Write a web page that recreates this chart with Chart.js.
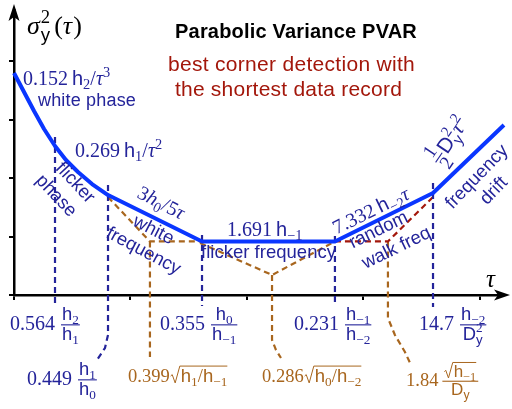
<!DOCTYPE html>
<html>
<head>
<meta charset="utf-8">
<script src="https://cdn.jsdelivr.net/npm/chart.js@4.4.1/dist/chart.umd.min.js"></script>
<style>
html, body { margin: 0; background: #fff; }
#wrap { width: 512px; height: 409px; }
</style>
</head>
<body>
<div id="wrap"><canvas id="chart"></canvas></div>
<script>
// sketch units: x ~ log tau, y ~ log sigma^2 (one tick = one unit)
const curveX = [0, 0.086, 0.172, 0.258, 0.352, 0.446, 0.549, 0.670, 0.807, 1.614, 2.755, 3.597, 4.206];
const curveY = [3.795, 3.470, 3.145, 2.838, 2.547, 2.308, 2.103, 1.897, 1.709, 0.915, 0.915, 1.744, 2.906];

// asymptote crossings (dashed)
const whiteFmX = [0.807, 1.167, 1.614];
const whiteFmY = [1.675, 0.915, 0.915];
const flickerFmX = [1.597, 2.215, 2.755];
const flickerFmY = [0.889, 0.342, 0.915];
const rwFmX = [2.755, 3.210, 3.597];
const rwFmY = [0.915, 0.915, 1.675];

// leaders from crossings down to their formulas
const lead1X = [1.167, 1.167];
const lead1Y = [0.915, -1.060];
const lead2X = [2.215, 2.215, 2.249, 2.292];
const lead2Y = [0.342, -0.769, -0.940, -1.077];
const lead3X = [3.210, 3.210, 3.270, 3.356, 3.408];
const lead3Y = [0.915, -0.393, -0.684, -0.974, -1.197];

// corner markers
const corner1X = [0.352, 0.352];
const corner1Y = [2.701, -0.137];
const corner2X = [0.807, 0.807, 0.781, 0.712];
const corner2Y = [1.880, -0.684, -0.906, -1.111];
const corner3X = [1.614, 1.614];
const corner3Y = [1.026, -0.188];
const corner4X = [2.755, 2.755];
const corner4Y = [1.009, -0.188];
const corner5X = [3.597, 3.597];
const corner5Y = [1.915, -0.205];

const BLUE = '#0a36ff';
const NAVY = '#24249a';
const BROWN = '#a8661e';
const DARKRED = '#a3170b';

const SERIF = '"Liberation Serif", "Times New Roman", serif';
const SANS = '"Liberation Sans", Arial, sans-serif';

const pts = (xs, ys) => xs.map((x, i) => ({ x, y: ys[i] }));

const dashed = (xs, ys, color) => ({
    data: pts(xs, ys),
    borderColor: color,
    borderWidth: 2.2,
    borderDash: [6, 4],
    pointRadius: 0,
    clip: false,
});

function fontFor(kind, size) {
    if (kind === 'i') return 'italic ' + size + 'px ' + SERIF;
    if (kind === 's') return size + 'px ' + SANS;
    return size + 'px ' + SERIF;
}

// measure (draw=false) or draw a little math run, returns its width
function mathRuns(ctx, parts, x, y, size, draw) {
    let cx = x;
    for (const p of parts) {
        if (typeof p === 'number') { cx += p; continue; }
        if (p.frac) {
            const fs = size * 0.92;
            const wn = mathRuns(ctx, p.frac[0], 0, 0, fs, false);
            const wd = mathRuns(ctx, p.frac[1], 0, 0, fs, false);
            const w = Math.max(wn, wd) + 4;
            const bar = y - size * 0.26;
            if (draw) {
                mathRuns(ctx, p.frac[0], cx + (w - wn) / 2, bar - size * 0.22, fs, true);
                mathRuns(ctx, p.frac[1], cx + (w - wd) / 2, bar + size * 0.74, fs, true);
                ctx.fillRect(cx + 1, bar - 0.5, w - 2, 1.1);
            }
            cx += w;
            continue;
        }
        if (p.sqrt) {
            const sw = size * 0.55;
            const wc = mathRuns(ctx, p.sqrt, 0, 0, size, false);
            if (draw) {
                ctx.beginPath();
                ctx.moveTo(cx + 1, y - size * 0.32);
                ctx.lineTo(cx + size * 0.14, y - size * 0.4);
                ctx.lineTo(cx + size * 0.3, y + size * 0.05);
                ctx.lineTo(cx + sw, y - size * 0.86);
                ctx.lineTo(cx + sw + wc + 1, y - size * 0.86);
                ctx.lineWidth = 1;
                ctx.strokeStyle = ctx.fillStyle;
                ctx.stroke();
                mathRuns(ctx, p.sqrt, cx + sw + 1, y, size, true);
            }
            cx += sw + wc + 2;
            continue;
        }
        if (p.ss) {
            const s = size * 0.72;
            ctx.font = fontFor(p.ss[0][1], s);
            const w1 = ctx.measureText(p.ss[0][0]).width;
            if (draw) ctx.fillText(p.ss[0][0], cx, y - size * 0.42);
            ctx.font = fontFor(p.ss[1][1], s);
            const w2 = ctx.measureText(p.ss[1][0]).width;
            if (draw) ctx.fillText(p.ss[1][0], cx, y + size * 0.26);
            cx += Math.max(w1, w2) + 1;
            continue;
        }
        const [t, kind, pos = 0] = p;
        const s = pos ? size * 0.72 : size;
        ctx.font = fontFor(kind, s);
        const dy = pos > 0 ? -size * 0.42 : pos < 0 ? size * 0.22 : 0;
        if (draw) ctx.fillText(t, cx, y + dy);
        cx += ctx.measureText(t).width;
    }
    return cx - x;
}

const h = (sub) => [['h', 's'], [sub, 'r', -1]];

// math labels: left x, baseline y (or centre + angle when rot given)
const mathLabels = [
    { x: 27, y: 34, size: 26, color: '#000', parts: [['σ', 'i'], 1, { ss: [['2', 'r'], ['y', 's']] }, 3, ['(', 'r'], ['τ', 'i'], 1, [')', 'r']] },
    { x: 486, y: 287, size: 25, color: '#000', parts: [['τ', 'i']] },
    { x: 23, y: 85, size: 20, color: NAVY, parts: [['0.152', 'r'], 4, ...h('2'), ['/', 'r'], ['τ', 'i'], ['3', 'r', 1]] },
    { x: 75, y: 157, size: 20, color: NAVY, parts: [['0.269', 'r'], 4, ...h('1'), ['/', 'r'], ['τ', 'i'], ['2', 'r', 1]] },
    { cx: 161, cy: 203, rot: 27, size: 20, color: NAVY, parts: [['3', 'r'], ['h', 'i'], ['0', 'r', -1], ['/5', 'r'], ['τ', 'i']] },
    { x: 227, y: 236, size: 20, color: NAVY, parts: [['1.691', 'r'], 4, ...h('−1')] },
    { cx: 371, cy: 211, rot: -26, size: 20, color: NAVY, parts: [['7.332', 'r'], 4, ...h('−2'), ['τ', 'i']] },
    { cx: 449, cy: 141, rot: -56, size: 21, color: NAVY, parts: [{ frac: [[['1', 'r']], [['2', 'r']]] }, ['D', 's'], { ss: [['2', 'r'], ['y', 's']] }, ['τ', 'i'], ['2', 'r', 1]] },
    { x: 10, y: 330, size: 20, color: NAVY, parts: [['0.564', 'r'], 5, { frac: [h('2'), h('1')] }] },
    { x: 27, y: 385, size: 20, color: NAVY, parts: [['0.449', 'r'], 5, { frac: [h('1'), h('0')] }] },
    { x: 160, y: 330, size: 20, color: NAVY, parts: [['0.355', 'r'], 5, { frac: [h('0'), h('−1')] }] },
    { x: 294, y: 330, size: 20, color: NAVY, parts: [['0.231', 'r'], 5, { frac: [h('−1'), h('−2')] }] },
    { x: 419, y: 330, size: 20, color: NAVY, parts: [['14.7', 'r'], 5, { frac: [h('−2'), [['D', 's'], { ss: [['2', 'r'], ['y', 's']] }]] }] },
    { x: 128, y: 382, size: 18.5, color: BROWN, parts: [['0.399', 'r'], { sqrt: [...h('1'), ['/', 'r'], ...h('−1')] }] },
    { x: 262, y: 382, size: 18.5, color: BROWN, parts: [['0.286', 'r'], { sqrt: [...h('0'), ['/', 'r'], ...h('−2')] }] },
    { x: 406, y: 386, size: 18.5, color: BROWN, parts: [['1.84', 'r'], 3, { frac: [[{ sqrt: h('−1') }], [['D', 's'], ['y', 's', -1]]] }] },
];

// plain text labels: centre, angle, target width (optional)
const textLabels = [
    { t: 'Parabolic Variance PVAR', cx: 296, cy: 38, size: 20, w: 242, color: '#000', bold: true, base: true },
    { t: 'best corner detection with', cx: 291.5, cy: 71, size: 21, w: 247, color: DARKRED, base: true },
    { t: 'the shortest data record', cx: 288.5, cy: 96, size: 21, w: 227, color: DARKRED, base: true },
    { t: 'white phase', cx: 87, cy: 106, size: 18, w: 98, color: NAVY, base: true },
    { t: 'flicker', cx: 76, cy: 182, size: 18.5, rot: 47, color: NAVY },
    { t: 'phase', cx: 57, cy: 195, size: 18.5, rot: 47, color: NAVY },
    { t: 'white', cx: 154, cy: 229, size: 18.5, rot: 27, color: NAVY },
    { t: 'frequency', cx: 144, cy: 250, size: 18.5, rot: 28, color: NAVY },
    { t: 'flicker frequency', cx: 268.5, cy: 258, size: 18.5, w: 135, color: NAVY, base: true },
    { t: 'random', cx: 378, cy: 229, size: 18.5, rot: -26, color: NAVY },
    { t: 'walk freq', cx: 396, cy: 247, size: 18.5, rot: -26, color: NAVY },
    { t: 'frequency', cx: 476, cy: 176, size: 18.5, rot: -46, color: NAVY },
    { t: 'drift', cx: 493, cy: 190, size: 18.5, rot: -46, color: NAVY },
];

const labelPlugin = {
    id: 'labels',
    afterDatasetsDraw(chart) {
        const ctx = chart.ctx;
        ctx.save();
        ctx.textAlign = 'left';
        ctx.textBaseline = 'alphabetic';
        for (const l of textLabels) {
            ctx.save();
            ctx.fillStyle = l.color;
            ctx.font = (l.bold ? 'bold ' : '') + l.size + 'px ' + SANS;
            let w = ctx.measureText(l.t).width;
            if (l.w) {
                ctx.letterSpacing = ((l.w - w) / l.t.length).toFixed(2) + 'px';
                w = ctx.measureText(l.t).width;
            }
            ctx.translate(l.cx, l.cy);
            if (l.rot) ctx.rotate(l.rot * Math.PI / 180);
            ctx.fillText(l.t, -w / 2, l.base ? 0 : l.size * 0.35);
            ctx.restore();
        }
        for (const m of mathLabels) {
            ctx.save();
            ctx.fillStyle = m.color;
            if (m.rot !== undefined) {
                const w = mathRuns(ctx, m.parts, 0, 0, m.size, false);
                ctx.translate(m.cx, m.cy);
                ctx.rotate(m.rot * Math.PI / 180);
                mathRuns(ctx, m.parts, -w / 2, m.size * 0.3, m.size, true);
            } else {
                mathRuns(ctx, m.parts, m.x, m.y, m.size, true);
            }
            ctx.restore();
        }
        ctx.restore();
    },
};

const arrowPlugin = {
    id: 'arrows',
    afterDraw(chart) {
        const { ctx, chartArea: a } = chart;
        ctx.save();
        ctx.fillStyle = '#000';
        ctx.beginPath();
        ctx.moveTo(a.left, a.top - 6);
        ctx.lineTo(a.left - 5.5, a.top + 11);
        ctx.lineTo(a.left, a.top + 7);
        ctx.lineTo(a.left + 5.5, a.top + 11);
        ctx.closePath();
        ctx.fill();
        ctx.beginPath();
        ctx.moveTo(a.right + 10, a.bottom);
        ctx.lineTo(a.right - 6, a.bottom - 5.5);
        ctx.lineTo(a.right - 2, a.bottom);
        ctx.lineTo(a.right - 6, a.bottom + 5.5);
        ctx.closePath();
        ctx.fill();
        ctx.restore();
    },
};

const axisOpts = (max) => ({
    type: 'linear',
    min: 0,
    max,
    border: { display: true, color: '#000', width: 2.5 },
    grid: { display: true, drawOnChartArea: false, drawTicks: true, tickLength: 5, color: '#000', lineWidth: 2 },
    ticks: { display: false, stepSize: 1, includeBounds: false },
});

new Chart(document.getElementById('chart'), {
    type: 'line',
    data: {
        datasets: [
            {
                data: pts(curveX, curveY),
                borderColor: BLUE,
                borderWidth: 4,
                pointRadius: 0,
                borderJoinStyle: 'round',
                clip: false,
            },
            dashed(corner1X, corner1Y, NAVY),
            dashed(corner2X, corner2Y, NAVY),
            dashed(corner3X, corner3Y, NAVY),
            dashed(corner4X, corner4Y, NAVY),
            dashed(corner5X, corner5Y, NAVY),
            dashed(whiteFmX, whiteFmY, BROWN),
            dashed(flickerFmX, flickerFmY, BROWN),
            dashed(rwFmX, rwFmY, DARKRED),
            dashed(lead1X, lead1Y, BROWN),
            dashed(lead2X, lead2Y, BROWN),
            dashed(lead3X, lead3Y, BROWN),
        ],
    },
    options: {
        responsive: true,
        maintainAspectRatio: false,
        animation: false,
        events: [],
        layout: { padding: { left: 9, right: 12, top: 10, bottom: 109 } },
        plugins: { legend: { display: false }, tooltip: { enabled: false } },
        scales: {
            x: axisOpts(4.172),
            y: axisOpts(4.872),
        },
    },
    plugins: [labelPlugin, arrowPlugin],
});
</script>
</body>
</html>
